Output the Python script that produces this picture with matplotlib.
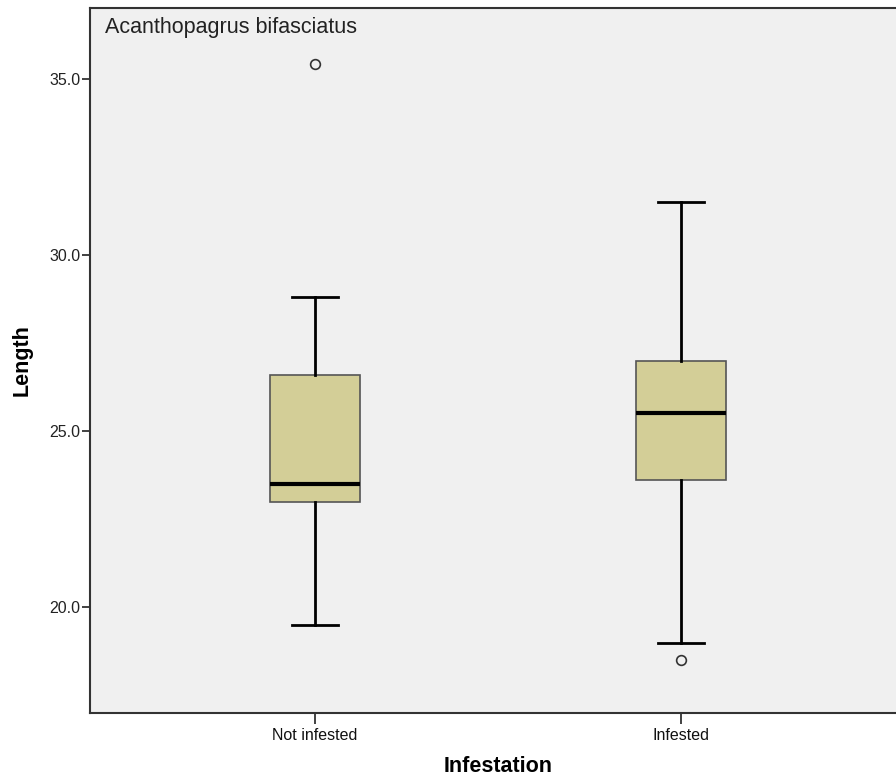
import matplotlib
matplotlib.use("Agg")
import matplotlib.pyplot as plt

# Summary statistics for fish length by infestation status
categories = ["Not infested", "Infested"]
whisker_low = [19.5, 19.0]
q1 = [23.0, 23.6]
median = [23.5, 25.5]
q3 = [26.6, 27.0]
whisker_high = [28.8, 31.5]
outliers = [[35.4], [18.5]]

yticks = [20.0, 25.0, 30.0, 35.0]

plt.rcParams['font.family'] = ['Liberation Sans', 'DejaVu Sans']

fig = plt.figure(figsize=(8.96, 7.80), dpi=100)
fig.patch.set_facecolor("white")
ax = fig.add_axes([90 / 896, 67 / 780, 806 / 896, 705 / 780])
ax.set_facecolor("#f0f0f0")

stats = []
for i, name in enumerate(categories):
    stats.append(dict(label=name, whislo=whisker_low[i], q1=q1[i], med=median[i],
                      q3=q3[i], whishi=whisker_high[i], fliers=outliers[i]))

positions = [1, 2]
ax.bxp(stats, positions=positions, widths=0.246, patch_artist=True,
       boxprops=dict(facecolor="#d3ce97", edgecolor="#555555", linewidth=1.2),
       medianprops=dict(color="black", linewidth=3),
       whiskerprops=dict(color="black", linewidth=2),
       capprops=dict(color="black", linewidth=2),
       capwidths=0.126,
       flierprops=dict(marker="o", markerfacecolor="none", markeredgecolor="#333333",
                       markersize=7, markeredgewidth=1.2))

ax.set_xlim(0.385, 2.587)
ax.set_ylim(17.0, 37.0)
ax.set_xticks(positions)
ax.set_xticklabels(categories, fontsize=11.5, color="#111111")
ax.set_yticks(yticks)
ax.set_yticklabels([f"{v:.1f}" for v in yticks], fontsize=11.5, color="#222222")

ax.tick_params(axis="y", direction="out", length=6, width=1.3, color="#333333", pad=1)
ax.tick_params(axis="x", direction="out", length=8, width=1.3, color="#333333", pad=3)

for side in ["left", "bottom", "top"]:
    ax.spines[side].set_color("#333333")
    ax.spines[side].set_linewidth(1.5)
ax.spines["right"].set_visible(False)

ax.set_xlabel("Infestation", fontsize=15.5, fontweight="bold")
ax.xaxis.set_label_coords(0.506, -54 / 705)
ax.xaxis.label.set_va("center")
ax.set_ylabel("Length", fontsize=15.5, fontweight="bold")
ax.yaxis.set_label_coords(-68 / 806, 0.5)
ax.yaxis.label.set_va("center")

ax.text(15 / 806, 1 - 25 / 705, "Acanthopagrus bifasciatus", transform=ax.transAxes,
        fontsize=15.5, color="#222222", ha="left", va="baseline")

fig.savefig("out.png", dpi=100, facecolor="white")
